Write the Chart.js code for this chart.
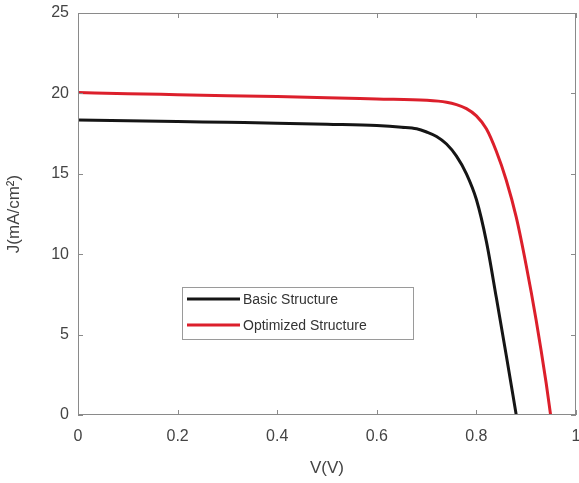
<!DOCTYPE html>
<html>
<head>
<meta charset="utf-8">
<script src="https://cdn.jsdelivr.net/npm/chart.js@4.4.1/dist/chart.umd.min.js"></script>
<style>
  html, body { margin: 0; padding: 0; background: #fff; }
  #wrap { width: 579px; height: 483px; }
</style>
</head>
<body>
<div id="wrap"><canvas id="grafico"></canvas></div>
<script>
// valores
const basicV = [0, 0.1, 0.2, 0.3, 0.4, 0.5, 0.6, 0.65, 0.68, 0.7, 0.72, 0.74, 0.76, 0.78, 0.8, 0.82, 0.84, 0.86, 0.88];
const basicJ = [18.35, 18.3, 18.25, 18.2, 18.15, 18.08, 18.0, 17.9, 17.8, 17.6, 17.32, 16.85, 16.1, 15.0, 13.4, 10.8, 7.3, 3.7, 0];
const optV = [0, 0.1, 0.2, 0.3, 0.4, 0.5, 0.6, 0.7, 0.74, 0.76, 0.78, 0.8, 0.82, 0.84, 0.86, 0.88, 0.9, 0.92, 0.94, 0.949];
const optJ = [20.05, 19.98, 19.92, 19.86, 19.8, 19.73, 19.65, 19.57, 19.45, 19.3, 19.05, 18.6, 17.8, 16.4, 14.6, 12.3, 9.3, 5.9, 2.0, 0];
const xTicks = [0, 0.2, 0.4, 0.6, 0.8, 1];
const yTicks = [0, 5, 10, 15, 20, 25];
const seriesNames = ['Basic Structure', 'Optimized Structure'];

const toPoints = (xs, ys) => xs.map((x, i) => ({ x: x, y: ys[i] }));

// caixa + ticks para dentro (estilo MATLAB) + legenda dentro do gráfico
const caixaPlugin = {
  id: 'caixa',
  afterDatasetsDraw(chart) {
    const { ctx, chartArea: a, scales } = chart;
    ctx.save();
    ctx.strokeStyle = '#8a8a8a';
    ctx.lineWidth = 1;
    ctx.strokeRect(a.left + 0.5, a.top + 0.5, a.right - a.left - 1, a.bottom - a.top - 1);
    ctx.beginPath();
    xTicks.forEach(v => {
      const px = Math.round(scales.x.getPixelForValue(v)) + 0.5;
      ctx.moveTo(px, a.bottom); ctx.lineTo(px, a.bottom - 5);
      ctx.moveTo(px, a.top); ctx.lineTo(px, a.top + 5);
    });
    yTicks.forEach(v => {
      const py = Math.round(scales.y.getPixelForValue(v)) + 0.5;
      ctx.moveTo(a.left, py); ctx.lineTo(a.left + 5, py);
      ctx.moveTo(a.right, py); ctx.lineTo(a.right - 5, py);
    });
    ctx.stroke();

    // legenda
    const lx = 182, ly = 287, lw = 231, lh = 52;
    ctx.fillStyle = '#fff';
    ctx.fillRect(lx, ly, lw, lh);
    ctx.strokeStyle = '#9a9a9a';
    ctx.strokeRect(lx + 0.5, ly + 0.5, lw, lh);
    ctx.font = '14px "Liberation Sans", Arial, sans-serif';
    ctx.textBaseline = 'middle';
    chart.data.datasets.forEach((ds, i) => {
      const y = ly + 12 + i * 26;
      ctx.strokeStyle = ds.borderColor;
      ctx.lineWidth = 3;
      ctx.beginPath();
      ctx.moveTo(187, y); ctx.lineTo(240, y);
      ctx.stroke();
      ctx.fillStyle = '#333';
      ctx.fillText(ds.label, 243, y + 1);
    });
    ctx.restore();
  }
};

function carregarGrafico() {
  const ctx = document.getElementById('grafico').getContext('2d');
  new Chart(ctx, {
    type: 'line',
    data: {
      datasets: [{
        label: seriesNames[0],
        data: toPoints(basicV, basicJ),
        borderColor: '#151515',
        borderWidth: 3,
        pointRadius: 0,
        cubicInterpolationMode: 'monotone',
        fill: false
      }, {
        label: seriesNames[1],
        data: toPoints(optV, optJ),
        borderColor: '#dc1f2b',
        borderWidth: 3,
        pointRadius: 0,
        cubicInterpolationMode: 'monotone',
        fill: false
      }]
    },
    options: {
      responsive: true,
      maintainAspectRatio: false,
      animation: false,
      layout: { padding: { top: 13, right: 3, left: 0, bottom: 0 } },
      plugins: {
        legend: { display: false },
        tooltip: { enabled: false }
      },
      scales: {
        x: {
          type: 'linear',
          min: 0, max: 1,
          afterBuildTicks: s => { s.ticks = xTicks.map(v => ({ value: v })); },
          afterFit: s => { s.height = 68; s.paddingLeft = 0; s.paddingRight = 0; },
          grid: { display: false, drawTicks: false },
          border: { display: false },
          ticks: {
            padding: 12,
            color: '#444',
            font: { size: 16, family: '"Liberation Sans", Arial, sans-serif' },
            maxRotation: 0,
            callback: v => String(v)
          },
          title: {
            display: true,
            text: 'V(V)',
            color: '#444',
            font: { size: 17, family: '"Liberation Sans", Arial, sans-serif' },
            padding: { top: 8 }
          }
        },
        y: {
          min: 0, max: 25,
          afterBuildTicks: s => { s.ticks = yTicks.map(v => ({ value: v })); },
          afterFit: s => { s.width = 78; s.paddingTop = 0; s.paddingBottom = 0; },
          grid: { display: false, drawTicks: false },
          border: { display: false },
          ticks: {
            padding: 9,
            color: '#444',
            font: { size: 16, family: '"Liberation Sans", Arial, sans-serif' },
            callback: v => String(v)
          },
          title: {
            display: true,
            text: 'J(mA/cm²)',
            color: '#444',
            font: { size: 17, family: '"Liberation Sans", Arial, sans-serif' },
            padding: { bottom: 4 }
          }
        }
      }
    },
    plugins: [caixaPlugin]
  });
}

window.addEventListener('DOMContentLoaded', carregarGrafico);
</script>
</body>
</html>
